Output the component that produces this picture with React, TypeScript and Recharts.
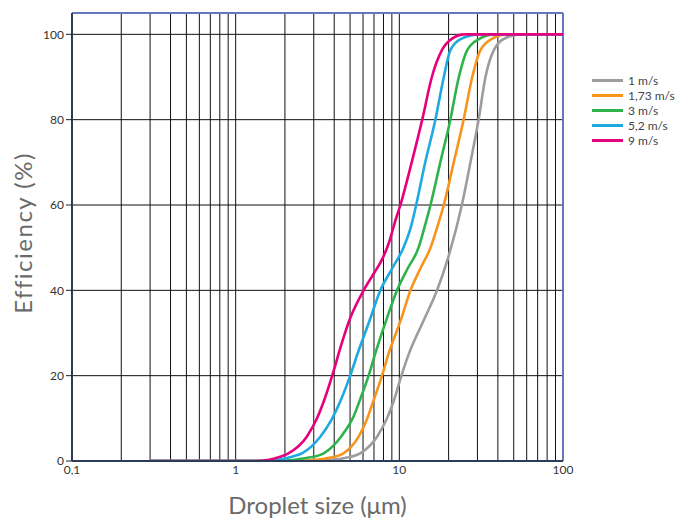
import {
  CartesianGrid,
  Label,
  Line,
  LineChart,
  ReferenceLine,
  XAxis,
  YAxis
} from "recharts";

type Pt = { x: number; y: number };

const xTicks = [
  0.1, 0.2, 0.3, 0.4, 0.5, 0.6, 0.7, 0.8, 0.9,
  1, 2, 3, 4, 5, 6, 7, 8, 9,
  10, 20, 30, 40, 50, 60, 70, 80, 90, 100
];
const xLabels: Record<number, string> = { 0.1: "0,1", 1: "1", 10: "10", 100: "100" };
const yTicks = [0, 20, 40, 60, 80, 100];

const toPts = (xs: number[], ys: number[]): Pt[] => xs.map((x, i) => ({ x, y: ys[i] }));

// droplet size (µm) -> efficiency (%)
const grayX = [0.3, 2.8, 3.8, 4.8, 5.77, 7.31, 8.41, 9.23, 10.2, 11.4, 14.1, 17, 20, 24.1, 27.2, 30.5, 33.6, 37.8, 45, 55, 100];
const grayY = [0, 0, 0.2, 0.8, 1.8, 5.7, 10, 14, 19.5, 25, 33, 40, 48, 60, 70, 80, 90, 96.3, 99.2, 100, 100];

const orangeX = [0.3, 2.2, 3, 3.8, 4.56, 5.64, 6.34, 6.9, 7.84, 8.6, 10.2, 11.7, 13.4, 15.5, 17.1, 18.7, 21.5, 24.7, 27.9, 31.3, 37, 45, 100];
const orangeY = [0, 0, 0.2, 0.8, 1.8, 5.7, 9.8, 13.8, 20, 25.2, 33, 40, 45, 50, 55, 60, 70, 80, 90, 96.3, 99, 100, 100];

const greenX = [0.3, 1.8, 2.3, 2.8, 3.45, 4.46, 5.26, 5.77, 6.49, 7.13, 8.32, 9.68, 11.2, 13.1, 14.3, 15.5, 17.8, 20.5, 23.1, 26, 31, 38, 100];
const greenY = [0, 0, 0.3, 0.8, 1.8, 6, 10.5, 14.5, 20, 25.2, 33, 40, 45, 50, 55, 60, 70, 80, 90, 96.3, 99, 100, 100];

const blueX = [0.3, 1.5, 1.9, 2.2, 2.54, 3.29, 3.87, 4.36, 5.01, 5.56, 6.59, 7.66, 9, 10.6, 11.7, 12.5, 14.4, 16.6, 18.7, 20.5, 24, 31, 100];
const blueY = [0, 0, 0.4, 1, 1.8, 5.7, 9.8, 14, 20, 25.2, 33, 40, 45, 50, 54.5, 59, 70, 80, 90, 96.3, 99, 100, 100];

const magentaX = [0.3, 1.3, 1.6, 1.87, 2.1, 2.72, 3.14, 3.53, 3.96, 4.36, 5.01, 6.05, 7.0, 7.9, 8.7, 9.4, 10.15, 11.9, 13.8, 15.8, 18.2, 21, 25, 100];
const magentaY = [0, 0, 0.3, 1, 1.8, 5.7, 10, 15, 21, 26.5, 33.5, 40, 44, 47.5, 51.5, 56, 60, 70, 80, 90, 96.3, 99, 100, 100];

const series = [
  { name: "1 m/s", color: "#9d9d9d", data: toPts(grayX, grayY) },
  { name: "1,73 m/s", color: "#f7941d", data: toPts(orangeX, orangeY) },
  { name: "3 m/s", color: "#2db34a", data: toPts(greenX, greenY) },
  { name: "5,2 m/s", color: "#1ea9e1", data: toPts(blueX, blueY) },
  { name: "9 m/s", color: "#e6007e", data: toPts(magentaX, magentaY) }
];

const font = "Lato, 'Open Sans', sans-serif";

const XTick = (props: any) => {
  const { x, y, payload } = props;
  const label = xLabels[payload.value];
  if (!label) return null;
  return (
    <text x={x} y={y} dy="0.71em" textAnchor="middle" fill="#333" fontSize={12} fontFamily={font}>
      {label}
    </text>
  );
};

export default function App() {
  return (
    <div style={{ position: "relative", width: 667, height: 510 }}>
      <LineChart width={667} height={510} margin={{ top: 5, right: 112, left: 0, bottom: 0 }}>
        <CartesianGrid stroke="#111" strokeWidth={1} />
        <XAxis
          dataKey="x"
          type="number"
          scale="log"
          domain={[0.1, 100]}
          ticks={xTicks}
          tick={<XTick />}
          tickLine={false}
          tickSize={0}
          tickMargin={4}
          interval={0}
          height={57}
          axisLine={{ stroke: "#2c3b57", strokeWidth: 2 }}
          allowDataOverflow
        >
          <Label
            content={({ viewBox }: any) => (
              <text
                x={viewBox.x + viewBox.width / 2}
                y={viewBox.y + 53}
                textAnchor="middle"
                fill="#6a6a6a"
                fontSize={24}
                fontFamily={font}
              >
                Droplet size (μm)
              </text>
            )}
          />
        </XAxis>
        <YAxis
          type="number"
          domain={[0, 105]}
          ticks={yTicks}
          width={64}
          tickSize={6}
          tickMargin={2}
          tickLine={{ stroke: "#222" }}
          tick={{ fill: "#333", fontSize: 12, fontFamily: font }}
          axisLine={{ stroke: "#2c3b57", strokeWidth: 2 }}
          allowDataOverflow
        >
          <Label
            content={({ viewBox }: any) => {
              const cx = 14;
              const cy = viewBox.y + viewBox.height / 2 - 4;
              return (
                <text
                  x={cx}
                  y={cy}
                  transform={`rotate(-90 ${cx} ${cy})`}
                  textAnchor="middle"
                  dominantBaseline="central"
                  fill="#6a6a6a"
                  fontSize={24}
                  letterSpacing={1.5}
                  fontFamily={font}
                >
                  Efficiency (%)
                </text>
              );
            }}
          />
        </YAxis>
        <ReferenceLine y={105} stroke="#6577bd" strokeWidth={2} />
        <ReferenceLine x={100} stroke="#6577bd" strokeWidth={2} />
        {series.map((s) => (
          <Line
            key={s.name}
            data={s.data}
            dataKey="y"
            name={s.name}
            type="monotone"
            stroke={s.color}
            strokeWidth={2.6}
            dot={false}
            activeDot={false}
            isAnimationActive={false}
          />
        ))}
      </LineChart>
      <div
        style={{
          position: "absolute",
          left: 584,
          top: 65,
          width: 83,
          fontFamily: font,
          fontSize: 12,
          lineHeight: "15px",
          color: "#444"
        }}
      >
        {series.map((s) => (
          <div key={s.name} style={{ display: "flex", alignItems: "center", height: 15, whiteSpace: "nowrap" }}>
            <span style={{ display: "inline-block", width: 31, height: 3, background: s.color, marginRight: 5, flexShrink: 0 }} />
            <span>{s.name}</span>
          </div>
        ))}
      </div>
    </div>
  );
}
